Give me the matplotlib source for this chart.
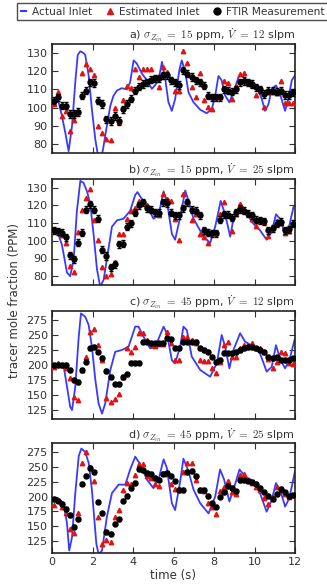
import matplotlib
matplotlib.use("Agg")
import matplotlib.pyplot as plt
from matplotlib.lines import Line2D

plt.rcParams['font.family'] = ['DejaVu Sans']
plt.rcParams['mathtext.fontset'] = 'cm'

# ---------------- data ----------------
sample_t = [0.08, 0.28, 0.48, 0.69, 0.89, 1.09, 1.29, 1.49, 1.69, 1.89,
            2.09, 2.29, 2.49, 2.69, 2.89, 3.09, 3.29, 3.49, 3.69, 3.89,
            4.09, 4.29, 4.49, 4.69, 4.89, 5.09, 5.29, 5.49, 5.69, 5.89,
            6.09, 6.29, 6.49, 6.69, 6.89, 7.09, 7.29, 7.49, 7.69, 7.89,
            8.09, 8.29, 8.49, 8.69, 8.89, 9.09, 9.29, 9.49, 9.69, 9.89,
            10.09, 10.29, 10.49, 10.69, 10.89, 11.09, 11.29, 11.49, 11.69, 11.89]

# panel a
actual_t_a = [0, 0.1, 0.33, 0.49, 0.66, 0.82, 0.99, 1.15, 1.27, 1.40, 1.56, 1.64, 1.81, 1.97, 2.14,
              2.25, 2.38, 2.52, 2.68, 2.88, 3.04, 3.21, 3.45, 3.70, 3.86, 4.03, 4.19, 4.44, 4.69,
              4.93, 5.10, 5.26, 5.43, 5.59, 5.75, 5.92, 6.08, 6.30, 6.41, 6.58, 6.74, 6.99, 7.32,
              7.64, 7.89, 8.06, 8.22, 8.38, 8.55, 8.76, 8.96, 9.21, 9.37, 9.62, 9.95, 10.19, 10.36,
              10.52, 10.69, 10.85, 11.06, 11.26, 11.51, 11.67, 11.84, 12.0]
actual_a = [102, 103, 103, 95.4, 86, 76, 90, 114, 129, 131, 130, 129, 117.7, 99, 82.4, 75, 70, 77,
            88, 101, 106.6, 109.4, 110.7, 110, 114, 126, 124.2, 118.7, 115, 110.3, 112.5, 115,
            125.2, 115.9, 102.9, 98.2, 104.7, 121.4, 126, 119.6, 108.4, 102.9, 98.8, 96.9, 99.1,
            106.6, 117.4, 115, 106.6, 102.9, 108.4, 116.8, 117.7, 115, 112.2, 109.4, 104.7, 98.2,
            101.9, 110.3, 112.2, 107.5, 98.2, 104.7, 115, 117.7]
est_a = [102, 108.8, 95.4, 98, 87, 93, 97.6, 119, 124, 121.5, 118, 90, 85.8, 82.8, 82, 99.5, 92,
         104, 112, 110.7, 121.5, 117, 121.5, 121.5, 121.5, 116, 111.6, 122.4, 119.6, 116, 109.4,
         109.4, 131, 124.8, 111.6, 106, 119.2, 104, 100.4, 99, 105.6, 105.6, 114.4, 113.5, 104.7,
         111.8, 118.3, 119, 113.5, 112.5, 107, 109.7, 100.4, 108.8, 108.8, 107.9, 114.6, 102.3,
         102.3, 102.3]
ftir_a = [103.8, 105.6, 101, 101, 96.4, 96.4, 97.5, 106.6, 109.4, 114, 113.6, 103.8, 102, 93.6,
          92.6, 95.4, 92.6, 99, 102, 105, 109.4, 111.6, 113, 114, 115.3, 116.2, 116.2, 117.7,
          117.7, 115, 114, 112.5, 120.5, 118.7, 116.8, 115, 114, 112, 106.6, 105.6, 105.6, 105.6,
          110, 109.4, 108.8, 110, 114, 114.6, 114, 113, 111.2, 110, 107.5, 109.4, 109.4, 108.8,
          109.4, 107, 107, 108.5]

# panel b
actual_t_b = [0, 0.25, 0.49, 0.74, 0.90, 1.07, 1.23, 1.40, 1.56, 1.73, 1.89, 2.05, 2.22, 2.38,
              2.55, 2.71, 2.96, 3.21, 3.53, 3.86, 4.11, 4.22, 4.44, 4.77, 5.01, 5.26, 5.51, 5.67,
              5.92, 6.08, 6.33, 6.58, 6.74, 6.99, 7.48, 7.81, 8.06, 8.33, 8.55, 8.80, 8.96, 9.29,
              9.53, 9.86, 10.27, 10.60, 10.85, 11.06, 11.26, 11.51, 11.67, 11.92, 12.0]
actual_b = [107, 105.7, 97.8, 82, 80, 89.6, 117, 134, 132.8, 128, 120.8, 104, 84, 74, 78, 89.6,
            108, 111.6, 112.5, 117, 126, 127.6, 123.6, 118, 112.5, 114.4, 128, 122.6, 104, 100.6,
            113.5, 128.5, 122.6, 112.5, 102.4, 98.8, 108, 122.6, 115, 102.4, 112.5, 120.8, 118,
            110.7, 106, 100.6, 105, 115, 112.5, 103.3, 106, 119, 120]
est_b = [105.5, 105.7, 103.3, 98.8, 86, 82.2, 105.2, 117.5, 124.5, 129.4, 111.6, 100.6, 85, 80,
         81.3, 88, 104, 104, 112.5, 117, 118.4, 122.3, 122.3, 120.3, 118, 116.6, 114.4, 126.3,
         123.6, 122.6, 112.5, 100.6, 126.3, 122.6, 111.6, 115.3, 104, 102.4, 99, 104.3, 104.3,
         115.3, 121.7, 114.4, 105.5, 115, 120.8, 117, 116.2, 112.5, 108.3, 111, 110.7, 102.8,
         107, 111, 110.3, 104.6, 105.7, 110.7]
ftir_b = [106, 105.5, 104.6, 102, 91.8, 89.6, 99, 104.6, 117.5, 120.8, 117.5, 112.5, 95, 91.4, 85,
          86.8, 98, 98.4, 108, 110, 116, 120, 121.7, 118.4, 117.5, 116.2, 116, 121.7, 121.4, 116,
          114.4, 114.4, 118.4, 121.7, 117.5, 117, 114.4, 106, 104.6, 104.3, 104.3, 112, 115,
          114.7, 113, 116.2, 118, 117, 115.3, 114.4, 112, 111.6, 111, 106, 107, 109.8, 110.7,
          106, 106.5, 109.8]

# panel c
actual_t_c = [0, 0.33, 0.58, 0.74, 0.90, 0.99, 1.15, 1.32, 1.43, 1.64, 1.81, 1.97, 2.14, 2.30,
              2.47, 2.63, 2.88, 3.12, 3.45, 3.78, 4.11, 4.27, 4.52, 4.85, 5.10, 5.51, 5.67, 5.92,
              6.08, 6.33, 6.49, 6.66, 6.90, 7.32, 7.81, 8.14, 8.38, 8.55, 8.76, 8.96, 9.29, 9.53,
              9.95, 10.27, 10.60, 10.85, 11.06, 11.29, 11.51, 11.72, 12.0]
actual_c = [198, 200, 197, 164, 130, 125, 164, 247, 286, 280.5, 266.7, 230.5, 175, 136, 119, 136,
            191.7, 222, 225, 230.5, 264, 264, 247, 227.8, 230.5, 264, 253, 208, 203, 230.5, 264,
            258, 214, 191.7, 180.5, 203, 250, 230.5, 194.5, 225, 253, 239, 230.5, 219.5, 189, 197,
            233, 208, 194.5, 208, 244.4]
est_c = [196, 202.8, 200, 194.4, 177.8, 147, 141.7, 191.7, 212.8, 255.6, 259.4, 233, 208, 144.4,
         139, 143.3, 151, 180.5, 227.8, 222.2, 230.5, 253.9, 253.9, 241.7, 232.8, 231.7, 235, 235,
         255.6, 237.2, 208, 208, 246, 246, 241.7, 236, 208, 206.7, 206.7, 194.4, 187.2, 205.6,
         233, 238.9, 214, 212.8, 227.8, 233, 233, 236, 227.8, 227.8, 222.2, 209.4, 194.4, 205.6,
         222.2, 220.6, 202.8, 201.7]
ftir_c = [200, 200, 200, 200, 191.7, 175, 172, 191.7, 205.6, 227.8, 230.5, 222.2, 212.2, 190,
          180.5, 167.8, 167.8, 180.5, 184.4, 203.9, 203.9, 203.9, 239, 239, 236, 236, 236, 237,
          244.4, 242.8, 227.8, 227.8, 239, 239, 239, 239, 227.8, 225, 222.2, 214, 205.6, 208,
          220.6, 219.5, 219.5, 222.2, 225, 227.8, 230.5, 230.5, 227.8, 225, 222.2, 214, 211,
          212.8, 208, 208, 208, 211]

# panel d
actual_t_d = [0, 0.33, 0.58, 0.74, 0.85, 0.99, 1.15, 1.32, 1.45, 1.64, 1.81, 1.97, 2.19, 2.30,
              2.47, 2.71, 2.96, 3.29, 3.62, 3.86, 4.11, 4.36, 4.69, 5.01, 5.26, 5.51, 5.67, 5.92,
              6.08, 6.33, 6.49, 6.74, 6.99, 7.32, 7.73, 8.06, 8.30, 8.50, 8.76, 8.96, 9.26, 9.53,
              9.95, 10.27, 10.60, 10.85, 11.06, 11.29, 11.51, 11.72, 12.0]
actual_d = [194, 195.5, 188.6, 154.5, 109, 131.8, 205.7, 268, 280.7, 275, 256.8, 211.4, 120.5, 103,
            109, 166, 205.7, 220, 220, 245.5, 267, 254, 228.4, 214, 228.4, 262.5, 248.3, 188.6,
            177.3, 225.6, 263.6, 242.6, 211.4, 188.6, 171.6, 200, 245.5, 228.4, 191.5, 211.4,
            245.5, 234, 225.6, 205.7, 174.4, 194.3, 222.7, 208.5, 183, 197, 242.6]
est_d = [185.8, 194.3, 182.9, 171.6, 146, 139.2, 172.7, 255.7, 275, 250, 225.6, 166, 120.5, 127.3,
         123.3, 164.8, 177.3, 211.4, 222.7, 221.6, 237, 254, 254, 235.2, 231.3, 221.6, 218.2,
         239.8, 238.6, 221.6, 212.5, 212.5, 240.9, 255.7, 255.7, 227.3, 210.2, 208.5, 189.8,
         181.8, 170.5, 208.5, 215.9, 225.6, 206.8, 204.5, 237, 238, 228.4, 222.7, 215.9, 210.2,
         197.2, 187.5, 198.9, 215.9, 211.4, 204.5, 198.9, 202.8]
ftir_d = [195.5, 193.2, 187.5, 179, 168.8, 149, 161.4, 221.6, 235.2, 248.3, 240.9, 191.5, 171.6,
          140.3, 137.5, 154.5, 161.4, 193.2, 201.1, 214.2, 222.7, 245.5, 243.8, 239.8, 238.6,
          231.3, 228.4, 238.6, 239.8, 235.2, 225.6, 211.4, 211.4, 240.9, 242.6, 234, 211.4, 211.4,
          201.1, 188.6, 182.9, 200, 206.8, 218.2, 214.2, 208.5, 227.3, 227.3, 225.6, 224, 221.6,
          214.2, 206.8, 201.1, 195.5, 204.5, 212.5, 206.8, 201.1, 202.8]

ftir_err = [2.0, 2.0, 3.0, 3.0]
panel_letters = ['a', 'b', 'c', 'd']
sigma_ppm = [15, 15, 45, 45]
flow_slpm = [12, 25, 12, 25]
ylims = [(75, 135), (75, 135), (110, 290), (105, 290)]
yticks = [[80, 90, 100, 110, 120, 130], [80, 90, 100, 110, 120, 130],
          [125, 150, 175, 200, 225, 250, 275], [125, 150, 175, 200, 225, 250, 275]]
xticks = [0, 2, 4, 6, 8, 10, 12]

actual_ts = [actual_t_a, actual_t_b, actual_t_c, actual_t_d]
actuals = [actual_a, actual_b, actual_c, actual_d]
ests = [est_a, est_b, est_c, est_d]
ftirs = [ftir_a, ftir_b, ftir_c, ftir_d]

# ---------------- figure ----------------
W, H = 327, 584
fig = plt.figure(figsize=(W / 100, H / 100), dpi=100)

boxes_px = [(44, 153), (179, 285), (311, 419), (443, 553)]
left_px, right_px = 52, 295

BLUE = '#3a3aff'
RED = '#dd1515'
TXT = '#333333'

for i in range(4):
    top, bot = boxes_px[i]
    ax = fig.add_axes([left_px / W, 1 - bot / H, (right_px - left_px) / W, (bot - top) / H])
    ax.plot(actual_ts[i], actuals[i], '-', color=BLUE, lw=1.3, zorder=2)
    ax.plot(sample_t, ests[i], '^', color=RED, ms=3.2, mec=RED, zorder=3)
    ax.errorbar(sample_t, ftirs[i], yerr=ftir_err[i], fmt='o', color='k', ms=3.6,
                ecolor='k', elinewidth=1.0, capsize=1.5, capthick=1.0, zorder=4)
    ax.set_xlim(0, 12)
    ax.set_ylim(*ylims[i])
    ax.set_xticks(xticks)
    ax.set_yticks(yticks[i])
    ax.tick_params(direction='in', top=True, right=True, length=4, width=0.8,
                   labelsize=8, labelcolor=TXT, color=TXT, pad=3)
    if i < 3:
        ax.set_xticklabels([])
    for sp in ax.spines.values():
        sp.set_linewidth(1.2)
        sp.set_color('#222222')
    title = (f"{panel_letters[i]}) " + r"$\sigma_{Z_{in}}\ =\ " + f"{sigma_ppm[i]}$ ppm, "
             + r"$\dot{V}\ =\ " + f"{flow_slpm[i]}$ slpm")
    ax.set_title(title, loc='right', fontsize=8, color=TXT, pad=3)
    if i == 3:
        ax.set_xlabel('time (s)', fontsize=8.5, color=TXT, labelpad=1)

fig.text(15 / W, 1 - 300 / H, 'tracer mole fraction (PPM)', rotation=90,
         ha='center', va='center', fontsize=8.5, color=TXT)

handles = [Line2D([], [], color=BLUE, lw=1.5),
           Line2D([], [], ls='none', marker='^', color=RED, ms=5),
           Line2D([], [], ls='none', marker='o', color='k', ms=5)]
labels = ['Actual Inlet', 'Estimated Inlet', 'FTIR Measurement']
leg = fig.legend(handles, labels, loc='upper left', bbox_to_anchor=(17 / W, 1 - 3 / H),
                 ncol=3, fontsize=7.6, frameon=True, fancybox=False, handlelength=0.5,
                 handletextpad=0.6, columnspacing=1.4, borderpad=0.35, borderaxespad=0)
leg.get_frame().set_edgecolor('#222222')
leg.get_frame().set_linewidth(1.0)
for t in leg.get_texts():
    t.set_color(TXT)

fig.savefig('out.png', dpi=100)
